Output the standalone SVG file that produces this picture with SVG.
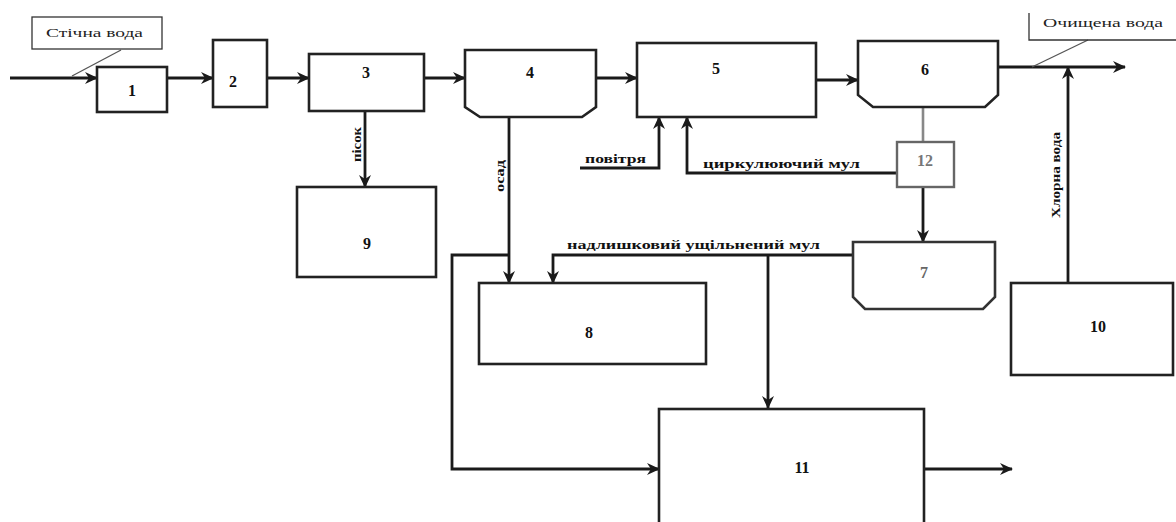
<svg xmlns="http://www.w3.org/2000/svg" width="1176" height="522" viewBox="0 0 1176 522">
<style>
.box{fill:#fff;stroke:#222;stroke-width:2.6}
.gbox{fill:#fff;stroke:#666;stroke-width:2.4}
.num{font-family:"Liberation Serif",serif;font-weight:bold;font-size:16px;fill:#111;text-anchor:middle}
.lbl{font-family:"Liberation Serif",serif;font-weight:bold;font-size:13px;fill:#111}
.call{font-family:"Liberation Serif",serif;font-size:13px;fill:#222}
.ln{fill:none;stroke:#1a1a1a;stroke-width:2.8}
.thin{fill:none;stroke:#555;stroke-width:1.3}
</style>
<defs>
<marker id="ah" markerUnits="userSpaceOnUse" markerWidth="14" markerHeight="12" refX="12" refY="6" orient="auto">
<path d="M0,0 L13,6 L0,12 L4,6 Z" fill="#1a1a1a"/>
</marker>
</defs>
<rect width="1176" height="522" fill="#fff"/>
<g id="connectors">
<path class="ln" d="M10,78 H97" marker-end="url(#ah)"/>
<path class="ln" d="M167,78 H213" marker-end="url(#ah)"/>
<path class="ln" d="M267,78 H309" marker-end="url(#ah)"/>
<path class="ln" d="M424,78 H465" marker-end="url(#ah)"/>
<path class="ln" d="M596,78 H637" marker-end="url(#ah)"/>
<path class="ln" d="M816,80 H858" marker-end="url(#ah)"/>
<path class="ln" d="M998,67 H1125" marker-end="url(#ah)"/>
<path class="ln" d="M365,111 V187" marker-end="url(#ah)"/>
<path class="ln" d="M509,117 V283" marker-end="url(#ah)"/>
<path class="ln" d="M509,255 H452 V469 H659" marker-end="url(#ah)"/>
<path class="ln" d="M853,255 H553 V283" marker-end="url(#ah)"/>
<path class="ln" d="M768,255 V408" marker-end="url(#ah)"/>
<path class="ln" d="M580,168 H659 V117" marker-end="url(#ah)"/>
<path class="ln" d="M897,173 H687 V117" marker-end="url(#ah)"/>
<path fill="none" stroke="#888" stroke-width="2.6" d="M923,107 V142"/>
<path class="ln" d="M923,187 V242" marker-end="url(#ah)"/>
<path class="ln" d="M1068,283 V67" marker-end="url(#ah)"/>
<path class="ln" d="M924,469 H1012" marker-end="url(#ah)"/>
<path class="thin" d="M121,50 L72,76"/>
<path class="thin" d="M1088,40 L1032,67"/>
</g>
<g id="callout-in">
<rect x="32" y="17" width="130" height="32" fill="#fff" stroke="#333" stroke-width="1.3"/>
<text class="call" x="46" y="37" textLength="97" lengthAdjust="spacingAndGlyphs">Стічна вода</text>
</g>
<g id="callout-out">
<path d="M1029,13 V40 H1176" fill="none" stroke="#333" stroke-width="1.3"/>
<text class="call" x="1043" y="27" textLength="120" lengthAdjust="spacingAndGlyphs">Очищена вода</text>
</g>
<g id="n1"><rect class="box" x="97" y="67" width="70" height="45"/><text class="num" x="132" y="96">1</text></g>
<g id="n2"><rect class="box" x="213" y="40" width="54" height="67"/><text class="num" x="233" y="87">2</text></g>
<g id="n3"><rect class="box" x="309" y="54" width="115" height="57"/><text class="num" x="366" y="78">3</text></g>
<g id="n4"><path class="box" d="M465,50 H596 V107 L582,117 H480 L465,107 Z"/><text class="num" x="530" y="78">4</text></g>
<g id="n5"><rect class="box" x="637" y="43" width="179" height="74"/><text class="num" x="716" y="74">5</text></g>
<g id="n6"><path class="box" d="M858,41 H998 V95 L985,107 H873 L858,95 Z"/><text class="num" x="925" y="75">6</text></g>
<g id="n12"><rect class="gbox" x="897" y="142" width="57" height="45"/><text class="num" x="925" y="166" style="fill:#777">12</text></g>
<g id="n7"><path class="box" d="M853,242 H995 V297 L983,309 H865 L853,297 Z" style="stroke:#333"/><text class="num" x="924" y="278" style="fill:#666">7</text></g>
<g id="n9"><rect class="box" x="297" y="187" width="139" height="90"/><text class="num" x="367" y="249">9</text></g>
<g id="n8"><rect class="box" x="479" y="283" width="227" height="81"/><text class="num" x="589" y="338">8</text></g>
<g id="n10"><rect class="box" x="1011" y="283" width="162" height="92"/><text class="num" x="1098" y="332">10</text></g>
<g id="n11"><rect class="box" x="659" y="409" width="265" height="130"/><text class="num" x="802" y="473">11</text></g>
<g id="labels">
<text class="lbl" x="585" y="163" textLength="61" lengthAdjust="spacingAndGlyphs">повітря</text>
<text class="lbl" x="703" y="168" textLength="157" lengthAdjust="spacingAndGlyphs">циркулюючий мул</text>
<text class="lbl" x="567" y="249" textLength="253" lengthAdjust="spacingAndGlyphs">надлишковий ущільнений мул</text>
<text class="lbl" transform="translate(361,162) rotate(-90)" x="0" y="0" textLength="35" lengthAdjust="spacingAndGlyphs">пісок</text>
<text class="lbl" transform="translate(504,192) rotate(-90)" x="0" y="0" textLength="32" lengthAdjust="spacingAndGlyphs">осад</text>
<text class="lbl" transform="translate(1060,218) rotate(-90)" x="0" y="0" textLength="86" lengthAdjust="spacingAndGlyphs">Хлорна вода</text>
</g>
</svg>
